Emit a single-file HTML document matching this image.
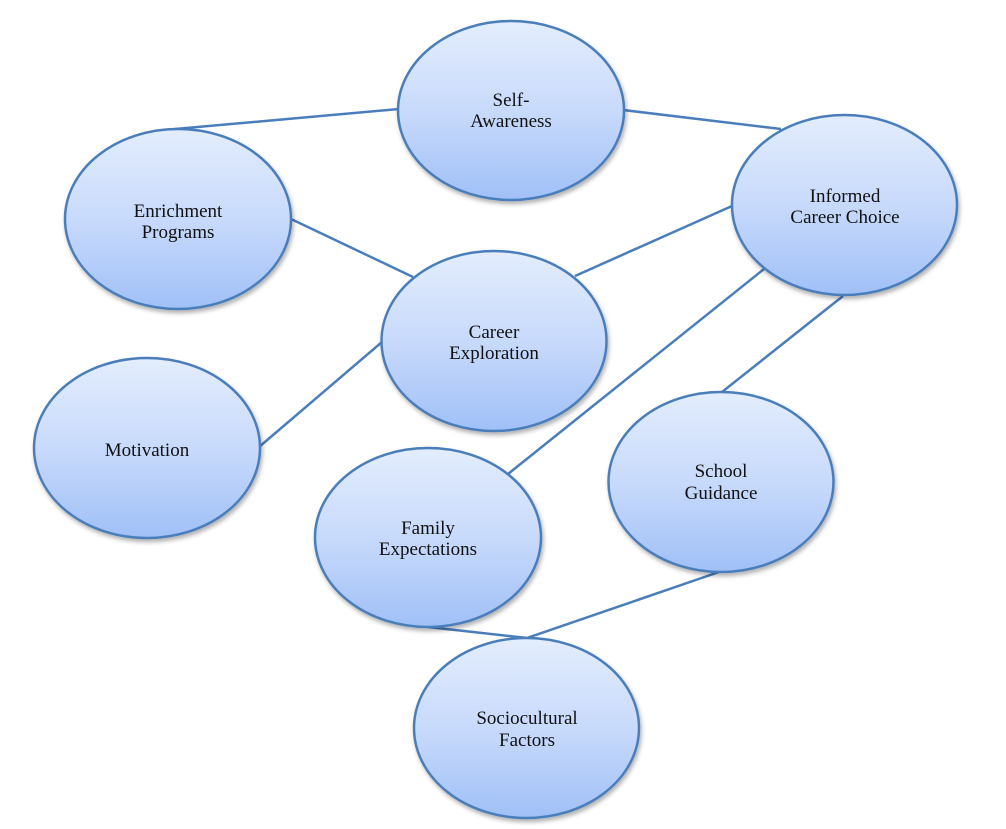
<!DOCTYPE html>
<html>
<head>
<meta charset="utf-8">
<style>
  html, body { margin: 0; padding: 0; background: #ffffff; }
  body { width: 1006px; height: 829px; overflow: hidden; }
  svg { display: block; }
  text { font-family: "Liberation Serif", "DejaVu Serif", serif; font-size: 19px; fill: #111111; }
</style>
</head>
<body>
<svg width="1006" height="829" viewBox="0 0 1006 829" xmlns="http://www.w3.org/2000/svg">
  <defs>
    <linearGradient id="g" x1="0" y1="0" x2="0" y2="1">
      <stop offset="0" stop-color="#e3edfd"/>
      <stop offset="0.5" stop-color="#c8dafb"/>
      <stop offset="1" stop-color="#a0c0f7"/>
    </linearGradient>
    <filter id="sh" x="-20%" y="-20%" width="140%" height="140%">
      <feDropShadow dx="1.5" dy="3" stdDeviation="2" flood-color="#000000" flood-opacity="0.3"/>
    </filter>
  </defs>

  <g stroke="#4a7ebb" stroke-width="2.5" fill="none">
    <line x1="175" y1="129" x2="399" y2="109"/>
    <line x1="623" y1="110" x2="781" y2="129"/>
    <line x1="291" y1="219" x2="413" y2="277"/>
    <line x1="575" y1="276" x2="732" y2="206"/>
    <line x1="259" y1="447" x2="382" y2="342"/>
    <line x1="764" y1="269" x2="508" y2="474"/>
    <line x1="843" y1="296" x2="722" y2="392"/>
    <line x1="428" y1="627" x2="527" y2="638"/>
    <line x1="719" y1="572" x2="527" y2="638"/>
  </g>

  <g fill="url(#g)" stroke="#4a7ebb" stroke-width="2.5" filter="url(#sh)">
    <ellipse cx="511" cy="110.5" rx="113" ry="89.5"/>
    <ellipse cx="178" cy="219" rx="113" ry="90"/>
    <ellipse cx="844.5" cy="205" rx="112.5" ry="90"/>
    <ellipse cx="494" cy="341" rx="112.5" ry="90"/>
    <ellipse cx="147" cy="448" rx="113" ry="90"/>
    <ellipse cx="721" cy="482" rx="112.5" ry="90"/>
    <ellipse cx="428" cy="537.5" rx="113" ry="89.5"/>
    <ellipse cx="526.5" cy="728" rx="112.5" ry="90"/>
  </g>

  <g text-anchor="middle">
    <text x="511" y="106">Self-</text>
    <text x="511" y="127">Awareness</text>

    <text x="178" y="217">Enrichment</text>
    <text x="178" y="238">Programs</text>

    <text x="845" y="202">Informed</text>
    <text x="845" y="223">Career Choice</text>

    <text x="494" y="338">Career</text>
    <text x="494" y="359">Exploration</text>

    <text x="147" y="456">Motivation</text>

    <text x="721" y="477">School</text>
    <text x="721" y="499">Guidance</text>

    <text x="428" y="534">Family</text>
    <text x="428" y="555">Expectations</text>

    <text x="527" y="724">Sociocultural</text>
    <text x="527" y="746">Factors</text>
  </g>
</svg>
</body>
</html>
